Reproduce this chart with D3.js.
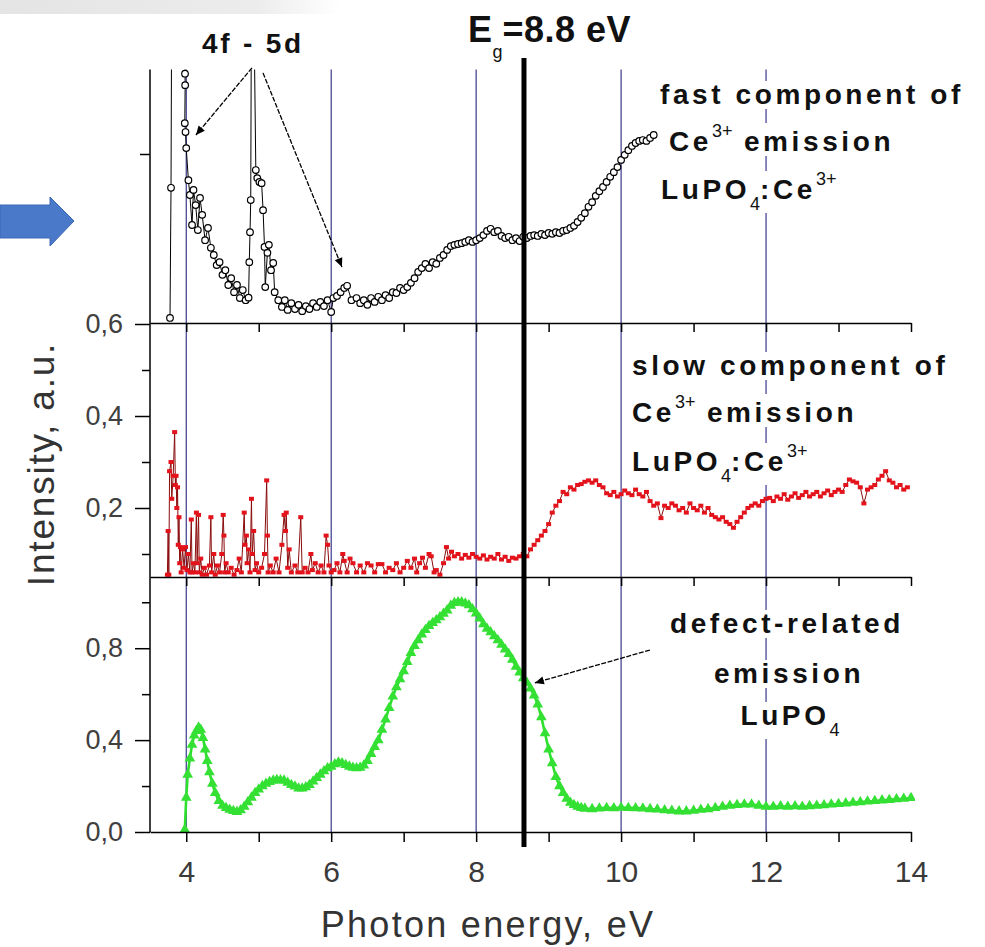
<!DOCTYPE html>
<html>
<head>
<meta charset="utf-8">
<script src="https://cdn.jsdelivr.net/npm/d3@7"></script>
<style>
body { margin: 0; background: #fff; }
svg { display: block; font-family: "Liberation Sans", Arial, sans-serif; }
</style>
</head>
<body>
<script>
// photon energy (eV) vs intensity
// fast component of Ce3+ emission (top panel), values above 1.2 run off the panel
var fastData = [
  [3.776,0.612],[3.79,0.92],[3.80,1.40],[3.96,1.40],[3.983,1.19],[3.985,1.163],[3.98,1.073],[3.99,1.052],
  [4.00,1.014],[4.03,0.938],[4.05,0.903],[4.08,0.832],[4.10,0.915],[4.13,0.879],[4.16,0.82],[4.19,0.896],
  [4.22,0.856],[4.26,0.796],[4.30,0.825],[4.34,0.778],[4.38,0.761],[4.42,0.737],[4.46,0.744],[4.50,0.714],
  [4.54,0.725],[4.58,0.69],[4.62,0.706],[4.66,0.673],[4.70,0.69],[4.74,0.659],[4.78,0.678],[4.82,0.654],
  [4.86,0.66],[4.87,0.744],[4.88,0.815],[4.89,0.891],[4.90,1.40],[4.93,1.40],[4.96,0.962],[4.98,0.943],
  [5.01,0.934],[5.04,0.931],[5.06,0.867],[5.08,0.78],[5.09,0.685],[5.12,0.766],[5.14,0.785],[5.17,0.725],
  [5.20,0.742],[5.22,0.673],[5.27,0.654],[5.32,0.638],[5.36,0.654],[5.40,0.631],[5.45,0.647],[5.50,0.633],
  [5.55,0.643],[5.60,0.628],[5.65,0.64],[5.70,0.633],[5.75,0.647],[5.80,0.638],[5.85,0.65],[5.90,0.64],
  [5.95,0.654],[6.00,0.626],[6.03,0.659],[6.08,0.664],[6.13,0.673],[6.18,0.683],[6.22,0.688],[6.28,0.654],
  [6.35,0.659],[6.40,0.647],[6.45,0.654],[6.50,0.643],[6.55,0.659],[6.60,0.65],[6.65,0.662],[6.70,0.654],
  [6.75,0.666],[6.80,0.659],[6.85,0.673],[6.90,0.671],[6.95,0.683],[7.00,0.678],[7.05,0.685],[7.10,0.695],
  [7.15,0.706],[7.20,0.721],[7.25,0.73],[7.30,0.74],[7.35,0.73],[7.40,0.744],[7.45,0.74],[7.50,0.754],
  [7.55,0.761],[7.60,0.773],[7.65,0.782],[7.70,0.785],[7.75,0.787],[7.80,0.789],[7.85,0.792],[7.90,0.796],
  [7.95,0.792],[8.00,0.796],[8.05,0.801],[8.10,0.808],[8.15,0.818],[8.20,0.823],[8.25,0.815],[8.30,0.818],
  [8.35,0.806],[8.40,0.801],[8.45,0.804],[8.50,0.796],[8.55,0.801],[8.60,0.794],[8.65,0.804],[8.70,0.801],
  [8.75,0.806],[8.80,0.808],[8.85,0.806],[8.90,0.811],[8.95,0.808],[9.00,0.813],[9.05,0.811],[9.10,0.815],
  [9.15,0.813],[9.20,0.818],[9.25,0.82],[9.30,0.825],[9.35,0.83],[9.40,0.839],[9.45,0.849],[9.50,0.86],
  [9.55,0.875],[9.60,0.886],[9.65,0.901],[9.70,0.912],[9.75,0.922],[9.80,0.934],[9.85,0.946],[9.90,0.957],
  [9.95,0.969],[10.00,0.986],[10.05,0.998],[10.10,1.009],[10.15,1.019],[10.20,1.026],[10.25,1.031],
  [10.30,1.033],[10.35,1.031],[10.40,1.038],[10.45,1.045]
];

// slow component of Ce3+ emission (middle panel)
var slowData = [
  [3.74,0.055],[3.75,0.15],[3.76,0.055],[3.77,0.28],[3.79,0.30],[3.80,0.22],[3.82,0.27],[3.84,0.365],
  [3.85,0.25],[3.86,0.27],[3.87,0.20],[3.88,0.245],[3.89,0.12],[3.90,0.18],[3.91,0.08],[3.92,0.115],
  [3.93,0.06],[3.95,0.11],[3.97,0.07],[3.99,0.115],[4.01,0.065],[4.03,0.1],[4.05,0.06],[4.07,0.175],
  [4.08,0.06],[4.10,0.08],[4.12,0.06],[4.14,0.19],[4.15,0.08],[4.17,0.185],[4.18,0.06],[4.20,0.09],
  [4.22,0.055],[4.25,0.07],[4.28,0.055],[4.32,0.075],[4.34,0.18],[4.35,0.06],[4.38,0.10],[4.40,0.055],
  [4.43,0.075],[4.46,0.06],[4.49,0.10],[4.51,0.185],[4.52,0.14],[4.53,0.06],[4.55,0.08],[4.58,0.06],
  [4.62,0.07],[4.66,0.055],[4.70,0.065],[4.73,0.09],[4.76,0.06],[4.80,0.19],[4.81,0.12],[4.83,0.14],
  [4.84,0.08],[4.86,0.11],[4.88,0.06],[4.90,0.22],[4.91,0.10],[4.93,0.15],[4.95,0.065],[4.97,0.08],
  [5.00,0.06],[5.04,0.07],[5.08,0.10],[5.11,0.26],[5.12,0.14],[5.13,0.06],[5.16,0.075],[5.20,0.06],
  [5.24,0.09],[5.28,0.06],[5.32,0.12],[5.35,0.185],[5.37,0.15],[5.38,0.19],[5.40,0.07],[5.42,0.11],
  [5.45,0.06],[5.50,0.075],[5.54,0.06],[5.58,0.18],[5.60,0.06],[5.64,0.07],[5.68,0.06],[5.72,0.10],
  [5.74,0.065],[5.78,0.08],[5.82,0.06],[5.86,0.075],[5.90,0.06],[5.93,0.14],[5.95,0.12],[5.97,0.075],
  [6.00,0.06],[6.04,0.065],[6.08,0.08],[6.12,0.06],[6.16,0.10],[6.18,0.085],[6.22,0.06],[6.26,0.09],
  [6.30,0.08],[6.35,0.06],[6.40,0.075],[6.45,0.06],[6.50,0.08],[6.55,0.075],[6.60,0.06],[6.65,0.078],
  [6.70,0.078],[6.75,0.06],[6.80,0.07],[6.85,0.065],[6.90,0.08],[6.95,0.06],[7.00,0.07],[7.05,0.085],
  [7.10,0.07],[7.15,0.09],[7.18,0.06],[7.22,0.08],[7.26,0.092],[7.30,0.07],[7.35,0.10],[7.38,0.095],
  [7.42,0.06],[7.45,0.065],[7.50,0.055],[7.55,0.08],[7.59,0.115],[7.62,0.09],[7.66,0.105],[7.70,0.095],
  [7.75,0.10],[7.80,0.09],[7.85,0.098],[7.90,0.092],[7.95,0.1],[8.00,0.094],[8.05,0.09],[8.10,0.097],
  [8.15,0.088],[8.20,0.094],[8.25,0.09],[8.30,0.1],[8.35,0.088],[8.40,0.094],[8.45,0.085],[8.50,0.092],
  [8.55,0.09],[8.60,0.095],[8.65,0.1],[8.70,0.095],[8.75,0.11],[8.80,0.12],[8.85,0.13],[8.90,0.14],
  [8.95,0.15],[9.00,0.165],[9.05,0.19],[9.10,0.205],[9.15,0.215],[9.20,0.235],[9.25,0.23],[9.30,0.245],
  [9.35,0.24],[9.40,0.25],[9.45,0.252],[9.50,0.257],[9.55,0.26],[9.60,0.255],[9.65,0.26],[9.70,0.25],
  [9.75,0.245],[9.80,0.232],[9.85,0.228],[9.90,0.235],[9.95,0.225],[10.00,0.23],[10.05,0.238],[10.10,0.232],
  [10.15,0.228],[10.20,0.24],[10.25,0.23],[10.30,0.225],[10.35,0.235],[10.40,0.215],[10.45,0.205],
  [10.50,0.21],[10.55,0.178],[10.60,0.205],[10.65,0.2],[10.70,0.21],[10.75,0.205],[10.80,0.195],
  [10.85,0.2],[10.90,0.19],[10.95,0.21],[11.00,0.2],[11.05,0.195],[11.10,0.205],[11.15,0.19],[11.20,0.2],
  [11.25,0.185],[11.30,0.18],[11.35,0.175],[11.40,0.18],[11.45,0.17],[11.50,0.165],[11.55,0.157],
  [11.60,0.17],[11.65,0.18],[11.70,0.19],[11.75,0.2],[11.80,0.205],[11.85,0.21],[11.90,0.205],
  [11.95,0.215],[12.00,0.22],[12.05,0.222],[12.10,0.215],[12.15,0.225],[12.20,0.22],[12.25,0.23],
  [12.30,0.218],[12.35,0.225],[12.40,0.232],[12.45,0.222],[12.50,0.228],[12.55,0.235],[12.60,0.225],
  [12.65,0.23],[12.70,0.235],[12.75,0.225],[12.80,0.232],[12.85,0.238],[12.90,0.228],[12.95,0.235],
  [13.00,0.24],[13.05,0.235],[13.10,0.25],[13.15,0.262],[13.20,0.258],[13.25,0.255],[13.30,0.245],
  [13.35,0.21],[13.40,0.24],[13.45,0.245],[13.50,0.25],[13.55,0.262],[13.60,0.27],[13.65,0.28],
  [13.70,0.26],[13.75,0.255],[13.80,0.245],[13.85,0.25],[13.90,0.24],[13.95,0.245]
];

// defect-related emission of LuPO4 (bottom panel)
var defectData = [
  [3.98,0.01],[4.00,0.15],[4.02,0.25],[4.05,0.32],[4.08,0.38],[4.11,0.42],[4.14,0.44],[4.17,0.455],
  [4.20,0.445],[4.23,0.41],[4.26,0.36],[4.29,0.31],[4.32,0.26],[4.36,0.21],[4.40,0.17],[4.45,0.135],
  [4.50,0.115],[4.55,0.105],[4.60,0.097],[4.65,0.092],[4.70,0.088],[4.75,0.095],[4.80,0.11],[4.85,0.13],
  [4.90,0.15],[4.95,0.17],[5.00,0.185],[5.05,0.2],[5.10,0.21],[5.15,0.218],[5.20,0.224],[5.25,0.227],
  [5.30,0.226],[5.35,0.224],[5.40,0.215],[5.45,0.205],[5.50,0.198],[5.55,0.19],[5.60,0.19],[5.65,0.195],
  [5.70,0.205],[5.75,0.22],[5.80,0.235],[5.85,0.25],[5.90,0.265],[5.95,0.278],[6.00,0.285],[6.05,0.295],
  [6.10,0.303],[6.15,0.3],[6.20,0.292],[6.25,0.285],[6.30,0.28],[6.35,0.278],[6.40,0.28],[6.45,0.29],
  [6.50,0.31],[6.55,0.34],[6.60,0.37],[6.65,0.4],[6.70,0.445],[6.75,0.49],[6.80,0.54],[6.85,0.59],
  [6.90,0.63],[6.95,0.665],[7.00,0.7],[7.05,0.74],[7.10,0.78],[7.15,0.81],[7.20,0.835],[7.25,0.86],
  [7.30,0.88],[7.35,0.897],[7.40,0.91],[7.45,0.922],[7.50,0.935],[7.55,0.95],[7.60,0.965],[7.65,0.985],
  [7.70,0.997],[7.75,1.0],[7.80,1.0],[7.85,0.995],[7.90,0.987],[7.95,0.97],[8.00,0.952],[8.05,0.93],
  [8.10,0.905],[8.15,0.885],[8.20,0.87],[8.25,0.852],[8.30,0.835],[8.35,0.815],[8.40,0.795],[8.45,0.775],
  [8.50,0.75],[8.55,0.72],[8.60,0.695],[8.65,0.67],[8.70,0.65],[8.75,0.625],[8.80,0.595],[8.85,0.555],
  [8.90,0.5],[8.95,0.43],[9.00,0.36],[9.05,0.3],[9.10,0.24],[9.15,0.2],[9.20,0.17],[9.25,0.145],
  [9.30,0.128],[9.35,0.118],[9.40,0.11],[9.45,0.105],[9.50,0.102],[9.60,0.1],[9.70,0.103],[9.80,0.105],
  [9.90,0.104],[10.0,0.106],[10.1,0.105],[10.2,0.104],[10.3,0.103],[10.4,0.1],[10.5,0.098],[10.6,0.095],
  [10.7,0.093],[10.8,0.09],[10.9,0.09],[11.0,0.093],[11.1,0.097],[11.2,0.1],[11.3,0.105],[11.4,0.11],
  [11.5,0.115],[11.6,0.118],[11.7,0.12],[11.8,0.12],[11.9,0.115],[12.0,0.11],[12.1,0.11],[12.2,0.112],
  [12.3,0.11],[12.4,0.112],[12.5,0.11],[12.6,0.113],[12.7,0.115],[12.8,0.117],[12.9,0.12],[13.0,0.122],
  [13.1,0.125],[13.2,0.128],[13.3,0.13],[13.4,0.133],[13.5,0.135],[13.6,0.138],[13.7,0.14],[13.8,0.143],
  [13.9,0.145],[14.0,0.148]
];

var xTicks = [4, 5, 6, 7, 8, 9, 10, 11, 12, 13, 14];
var guideLines = [4, 6, 8, 10, 12];
var egLine = 8.66;
var topTicks = [1.0];
var midMajor = [0.2, 0.4, 0.6], midMinor = [0.1, 0.3, 0.5];
var botMajor = [0.0, 0.4, 0.8], botMinor = [0.2, 0.6, 1.0];

var w = 985, h = 947;

var x = d3.scaleLinear().domain([3.5, 14]).range([150, 911]);
var yTop = d3.scaleLinear().domain([0.6, 1.2]).range([323, 69.5]);
var yMid = d3.scaleLinear().domain([0.05, 0.6]).range([577, 324]);
var yBot = d3.scaleLinear().domain([0, 1.11]).range([832, 577]);

var comma = function (d) { return d3.format('.1f')(d).replace('.', ','); };

var svg = d3.select('body').append('svg')
    .attr('width', w)
    .attr('height', h);

var defs = svg.append('defs');

var grad = defs.append('linearGradient').attr('id', 'band')
    .attr('x1', 0).attr('x2', 1).attr('y1', 0).attr('y2', 0);
grad.append('stop').attr('offset', '0%').attr('stop-color', '#e4e4e4');
grad.append('stop').attr('offset', '75%').attr('stop-color', '#ececec');
grad.append('stop').attr('offset', '100%').attr('stop-color', '#ffffff');

defs.append('marker')
    .attr('id', 'head')
    .attr('viewBox', '0 0 10 10')
    .attr('refX', 10).attr('refY', 5)
    .attr('markerWidth', 14).attr('markerHeight', 9)
    .attr('markerUnits', 'userSpaceOnUse')
    .attr('orient', 'auto')
  .append('path')
    .attr('d', 'M0,0.5 L10,5 L0,9.5 z')
    .attr('fill', '#000');

[['clipTop', yTop], ['clipMid', yMid], ['clipBot', yBot]].forEach(function (c) {
  var r = c[1].range();
  defs.append('clipPath').attr('id', c[0]).append('rect')
    .attr('x', x.range()[0]).attr('y', r[1])
    .attr('width', x.range()[1] - x.range()[0] + 4)
    .attr('height', r[0] - r[1]);
});

// slide leftovers: grey band and the big blue arrow
svg.append('rect').attr('x', 0).attr('y', 0).attr('width', 340).attr('height', 14)
    .attr('fill', 'url(#band)');
svg.append('path')
    .attr('d', 'M0,205 L50,205 L50,197 L74,221 L50,246 L50,238 L0,238 Z')
    .attr('fill', '#4a79c9')
    .attr('stroke', '#3c68b4')
    .attr('stroke-width', 1);

// blue guide lines
svg.selectAll('line.guide')
  .data(guideLines)
  .enter()
  .append('line')
  .attr('class', 'guide')
  .attr('x1', function (d) { return x(d); })
  .attr('x2', function (d) { return x(d); })
  .attr('y1', yTop.range()[1])
  .attr('y2', yBot.range()[0])
  .attr('stroke', '#262682')
  .attr('stroke-width', 1.1);

// fast component
var gFast = svg.append('g').attr('clip-path', 'url(#clipTop)');
gFast.append('path')
  .datum(fastData)
  .attr('fill', 'none')
  .attr('stroke', '#000')
  .attr('stroke-width', 1)
  .attr('d', d3.line()
    .x(function (d) { return x(d[0]); })
    .y(function (d) { return yTop(d[1]); }));
gFast.selectAll('circle')
  .data(fastData.filter(function (d) { return d[1] < 1.2; }))
  .enter()
  .append('circle')
  .attr('cx', function (d) { return x(d[0]); })
  .attr('cy', function (d) { return yTop(d[1]); })
  .attr('r', 3.3)
  .attr('fill', '#fff')
  .attr('stroke', '#000')
  .attr('stroke-width', 1.2);

// slow component
var gSlow = svg.append('g').attr('clip-path', 'url(#clipMid)');
gSlow.append('path')
  .datum(slowData)
  .attr('fill', 'none')
  .attr('stroke', '#8a0c0c')
  .attr('stroke-width', 1)
  .attr('d', d3.line()
    .x(function (d) { return x(d[0]); })
    .y(function (d) { return yMid(d[1]); }));
gSlow.selectAll('rect')
  .data(slowData)
  .enter()
  .append('rect')
  .attr('x', function (d) { return x(d[0]) - 2.5; })
  .attr('y', function (d) { return yMid(d[1]) - 2; })
  .attr('width', 5)
  .attr('height', 4)
  .attr('fill', '#e3121b');

// defect-related emission
var gDef = svg.append('g').attr('clip-path', 'url(#clipBot)');
gDef.append('path')
  .datum(defectData)
  .attr('fill', 'none')
  .attr('stroke', '#2ee02e')
  .attr('stroke-width', 2.6)
  .attr('d', d3.line()
    .x(function (d) { return x(d[0]); })
    .y(function (d) { return yBot(d[1]); }));
gDef.selectAll('path.tri')
  .data(defectData)
  .enter()
  .append('path')
  .attr('class', 'tri')
  .attr('transform', function (d) { return 'translate(' + x(d[0]) + ',' + yBot(d[1]) + ')'; })
  .attr('d', d3.symbol().type(d3.symbolTriangle).size(50))
  .attr('fill', '#33e033');

// horizontal axes, ticks pointing down
[yTop.range()[0], yMid.range()[0]].forEach(function (yy) {
  svg.append('g')
    .attr('class', 'axis')
    .attr('transform', 'translate(0,' + yy + ')')
    .call(d3.axisBottom(x).tickValues(xTicks).tickSize(9).tickSizeOuter(0).tickFormat(''));
});
svg.append('g')
  .attr('class', 'axis xlab')
  .attr('transform', 'translate(0,' + yBot.range()[0] + ')')
  .call(d3.axisBottom(x).tickValues(xTicks).tickSize(10).tickSizeOuter(0).tickPadding(19)
    .tickFormat(function (d) { return d % 2 === 0 ? d : ''; }));

// left axis
svg.append('line')
  .attr('x1', x.range()[0]).attr('x2', x.range()[0])
  .attr('y1', yTop.range()[1]).attr('y2', yBot.range()[0])
  .attr('stroke', '#000').attr('stroke-width', 1.5);

function leftAxis(scale, vals, size, labels) {
  var g = svg.append('g')
    .attr('class', 'axis ylab')
    .attr('transform', 'translate(' + x.range()[0] + ',0)')
    .call(d3.axisLeft(scale).tickValues(vals).tickSize(size).tickPadding(12)
      .tickFormat(labels ? comma : ''));
  g.select('.domain').remove();
}
leftAxis(yTop, topTicks, 10, false);
leftAxis(yMid, midMajor, 15, true);
leftAxis(yMid, midMinor, 8, false);
leftAxis(yBot, botMajor, 15, true);
leftAxis(yBot, botMinor, 8, false);

svg.selectAll('.axis path, .axis line')
  .attr('stroke', '#000')
  .attr('stroke-width', 1.5);
svg.selectAll('.ylab text')
  .attr('fill', '#404040')
  .style('font-size', '27px');
svg.selectAll('.xlab text')
  .attr('fill', '#3a3a3a')
  .style('font-size', '30px');

// band gap line
svg.append('line')
  .attr('x1', x(egLine)).attr('x2', x(egLine))
  .attr('y1', 58).attr('y2', 847)
  .attr('stroke', '#000')
  .attr('stroke-width', 5);

// axis titles
svg.append('text')
  .attr('x', 488).attr('y', 937)
  .attr('text-anchor', 'middle')
  .attr('fill', '#333')
  .style('font-size', '36px')
  .style('letter-spacing', '2.3px')
  .text('Photon energy, eV');

svg.append('text')
  .attr('transform', 'translate(54,464) rotate(-90)')
  .attr('text-anchor', 'middle')
  .attr('fill', '#333')
  .style('font-size', '37px')
  .style('letter-spacing', '1.8px')
  .text('Intensity, a.u.');

// annotations
function rich(parts, px, py, opt) {
  var size = opt.size || 28;
  var t = svg.append('text')
    .attr('x', px).attr('y', py)
    .attr('text-anchor', opt.anchor || 'start')
    .attr('fill', '#111')
    .style('font-size', size + 'px')
    .style('font-weight', 'bold')
    .style('letter-spacing', (opt.ls === undefined ? 3.6 : opt.ls) + 'px');
  var shift = 0;
  parts.forEach(function (p) {
    var target = p[1] === 'sub' ? (opt.sub || 11) : p[1] === 'sup' ? -14 : 0;
    t.append('tspan')
      .attr('dy', target - shift)
      .style('font-size', p[1] ? '18px' : null)
      .style('font-weight', p[1] ? 'normal' : null)
      .style('letter-spacing', p[1] ? '0px' : null)
      .text(p[0]);
    shift = target;
  });
  if (opt.bg) {
    var bb = t.node().getBBox();
    svg.insert('rect', function () { return t.node(); })
      .attr('x', bb.x - 3).attr('y', bb.y + 2)
      .attr('width', bb.width + 6).attr('height', bb.height - 3)
      .attr('fill', '#fff');
  }
  return t;
}

rich([['4f - 5d']], 253, 53, {anchor: 'middle', ls: 2.8});
rich([['E'], ['g', 'sub'], ['=8.8 eV']], 468, 42, {size: 36, ls: 0.5, sub: 16});

rich([['fast component of']], 660, 104, {bg: true});
rich([['Ce'], ['3+', 'sup'], [' emission']], 669, 151, {bg: true});
rich([['LuPO'], ['4', 'sub'], [':Ce'], ['3+', 'sup']], 661, 199, {bg: true});

rich([['slow component of']], 632, 375, {bg: true});
rich([['Ce'], ['3+', 'sup'], [' emission']], 632, 422, {bg: true});
rich([['LuPO'], ['4', 'sub'], [':Ce'], ['3+', 'sup']], 632, 471, {bg: true});

rich([['defect-related']], 787, 633, {anchor: 'middle', bg: true});
rich([['emission']], 789, 683, {anchor: 'middle', bg: true});
rich([['LuPO'], ['4', 'sub']], 790, 725, {anchor: 'middle', bg: true});

// arrows, drawn in data units of their panels
var arrows = [
  [[4.907, 1.204], [4.134, 1.045], yTop],
  [[5.059, 1.192], [6.148, 0.7325], yTop],
  [[10.397, 0.792], [8.81, 0.649], yBot]
];
svg.selectAll('line.arrow')
  .data(arrows)
  .enter()
  .append('line')
  .attr('class', 'arrow')
  .attr('x1', function (d) { return x(d[0][0]); })
  .attr('y1', function (d) { return d[2](d[0][1]); })
  .attr('x2', function (d) { return x(d[1][0]); })
  .attr('y2', function (d) { return d[2](d[1][1]); })
  .attr('stroke', '#000')
  .attr('stroke-width', 1.3)
  .attr('stroke-dasharray', '5,1.5')
  .attr('marker-end', 'url(#head)');
</script>
</body>
</html>
